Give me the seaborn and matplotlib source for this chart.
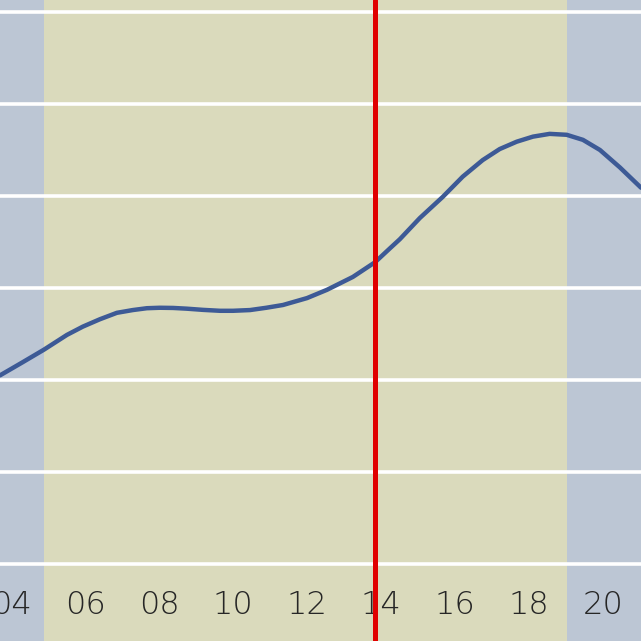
import numpy as np
import pandas as pd
import seaborn as sns
import matplotlib.pyplot as plt

# hours and values
hours = [3.70, 4.30, 4.89, 5.51, 5.94, 6.40, 6.86, 7.29, 7.67, 8.02, 8.38,
         8.75, 9.19, 9.65, 10.00, 10.46, 10.90, 11.35, 12.00, 12.54, 12.89,
         13.24, 13.84, 14.24, 14.51, 15.05, 15.67, 16.21, 16.75, 17.21, 17.67,
         18.11, 18.56, 19.02, 19.46, 19.92, 20.46, 21.03]
values = [2.05, 2.19, 2.33, 2.49, 2.58, 2.66, 2.73, 2.76, 2.78, 2.785, 2.783,
          2.775, 2.762, 2.752, 2.752, 2.76, 2.785, 2.815, 2.89, 2.98, 3.05,
          3.12, 3.28, 3.43, 3.53, 3.76, 3.99, 4.21, 4.39, 4.51, 4.59,
          4.645, 4.675, 4.665, 4.61, 4.50, 4.31, 4.09]

tick_hours = [4, 6, 8, 10, 12, 14, 16, 18, 20]
tick_labels = ["04", "06", "08", "10", "12", "14", "16", "18", "20"]
grid_levels = [0, 1, 2, 3, 4, 5, 6]

sunrise = 4.89
sunset = 19.03
now = 13.85

df = pd.DataFrame({"hour": hours, "value": values})

sns.set_style("white")
plt.rcParams['font.family'] = ['DejaVu Sans']

fig = plt.figure(figsize=(6.41, 6.41), dpi=100)
ax = fig.add_axes([0, 0, 1, 1])
ax.set_facecolor("#bcc6d4")

x0, x1 = 3.70, 21.03
ax.axvspan(sunrise, sunset, color="#dadabc", zorder=0, lw=0)

for lv in grid_levels:
    ax.axhline(lv, color="white", lw=2.6, zorder=1)

sns.lineplot(data=df, x="hour", y="value", ax=ax, color="#3d5a96", lw=3.2,
             zorder=3, solid_joinstyle="round", solid_capstyle="round")
ax.axvline(now, color="#e00000", lw=3.6, zorder=4)

ax.set_xlim(x0, x1)
ax.set_ylim(-0.837, 6.13)
ax.set_xticks(tick_hours)
ax.set_xticklabels(tick_labels)
ax.set_yticks([])
ax.set_xlabel("")
ax.set_ylabel("")
ax.tick_params(axis="x", length=0, pad=-26, labelsize=23, labelcolor="#262626")
plt.setp(ax.get_xticklabels(), va="center", fontweight="light")
for s in ax.spines.values():
    s.set_visible(False)

fig.savefig("out.png", dpi=100)
